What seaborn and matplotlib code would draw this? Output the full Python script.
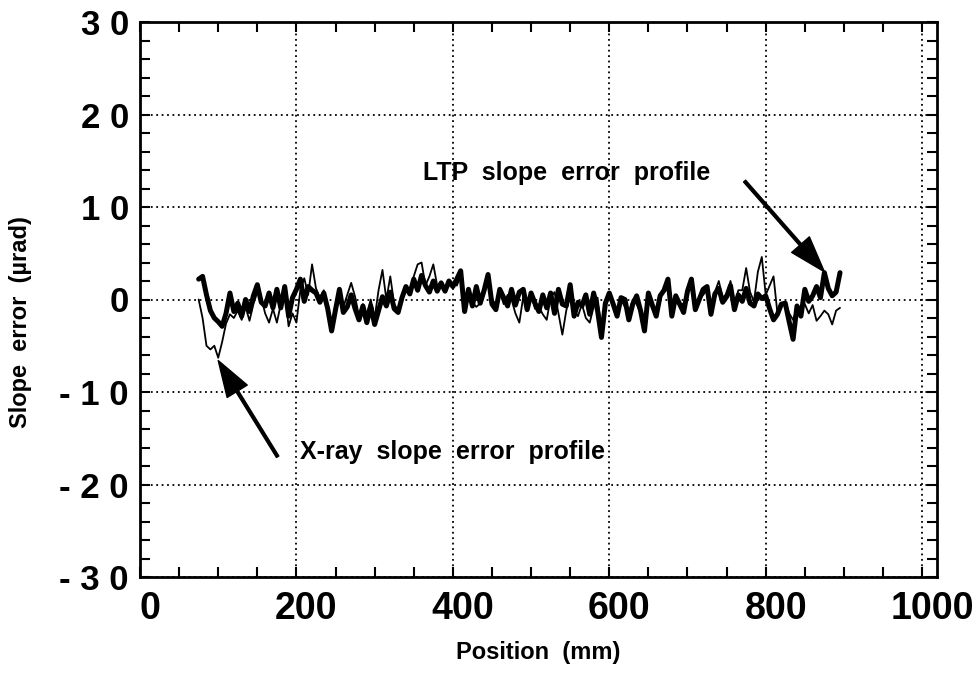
import numpy as np
import pandas as pd
import seaborn as sns
import matplotlib
matplotlib.use("Agg")
from matplotlib import pyplot as plt
from matplotlib.ticker import MultipleLocator
import matplotlib.transforms as mtransforms

# sample grid of both profiles (mm)
x_start = 75
x_step = 5

# LTP slope error profile (thick line), urad
ltp_slope = [
    2.2, 2.5, 0.5, -1.2, -2.0, -2.4, -2.9, -1.5, 0.7, -1.3,
    -0.4, -1.8, 0.0, -1.3, 0.4, 1.6, -0.3, -0.7, 0.7, -0.9,
    1.1, -0.9, 1.4, -1.8, 0.2, 1.1, 2.2, -0.2, 1.4, 1.0,
    0.7, -0.3, 0.7, -1.0, -3.4, -1.1, 1.1, -1.4, -0.8, 0.5,
    -1.0, -2.2, -0.7, -2.5, -0.7, -2.7, -1.2, 0.3, -0.7, 0.8,
    -1.0, -1.4, 0.2, 1.4, 0.6, 2.2, 1.0, 2.6, 1.5, 0.8,
    2.0, 0.9, 1.8, 0.9, 2.0, 1.4, 2.2, 3.1, -1.3, 1.1,
    -0.7, 1.4, -0.4, 1.0, 2.7, -0.5, -1.1, 1.1, 0.2, -0.7,
    1.1, -0.6, 0.8, 1.1, -1.1, 0.7, -0.4, -1.3, 0.5, -0.9,
    0.7, -1.5, 1.1, -0.5, -0.7, 1.6, -1.8, -0.3, -0.7, 0.5,
    -1.6, 0.7, -1.2, -4.1, -0.4, 0.7, -0.5, -1.8, 0.2, 0.0,
    -2.2, -0.5, 0.4, -1.2, -3.4, 0.7, -0.6, -1.8, 0.4, 1.0,
    2.2, -1.8, 0.4, -0.5, -1.4, 0.9, 2.2, -1.1, 0.0, 1.1,
    1.4, -1.6, 0.6, 1.2, -0.3, 0.3, 1.5, -1.1, 0.5, -0.2,
    1.2, -0.4, -0.7, 0.6, 0.1, 0.4, -1.0, -2.2, -1.6, -0.5,
    -0.4, -2.4, -4.3, -0.7, -1.8, 1.1, -0.2, 0.4, 1.4, 0.2,
    2.9, 1.2, 0.4, 0.8, 2.9,
]

# X-ray slope error profile (thin line), urad
xray_slope = [
    0.0, -2.0, -5.0, -5.4, -5.0, -6.3, -4.6, -2.6, -1.6, -2.0,
    -1.2, -2.2, -0.8, -2.3, -0.5, 0.8, 0.2, -1.5, -2.5, -1.0,
    -2.5, -0.5, 0.8, -2.9, -1.5, -2.5, 1.0, 2.3, 0.5, 3.8,
    1.2, 0.2, 1.0, -1.5, -2.8, -1.0, 0.8, -0.8, 0.5, 1.8,
    0.3, -1.8, -0.5, -1.6, 0.0, -2.0, 1.0, 3.2, 0.0, 2.5,
    -0.5, -1.2, 0.5, 1.2, 0.8, 2.5, 3.8, 4.0, 1.5, 2.5,
    3.8, 1.5, 1.8, 1.2, 1.5, 1.8, 1.5, 2.5, -0.5, 0.8,
    -0.3, -0.8, -0.4, 0.8, 1.8, 0.0, -0.5, 0.8, -0.5, 0.5,
    0.0, -1.5, -2.5, 0.3, -0.8, 0.5, -1.0, -0.8, -1.6, -2.2,
    0.2, 0.8, -1.5, -3.8, -1.2, 0.5, -1.2, -1.8, -0.5, -2.0,
    -2.5, -0.8, 0.2, -3.2, -0.8, 0.4, -0.8, -1.2, 0.0, -0.8,
    -1.5, 0.0, -0.5, -1.5, -2.5, 0.3, -1.0, -1.2, 0.5, 0.8,
    1.5, -1.0, 0.2, -0.8, -0.4, 0.6, 1.6, -0.5, 0.0, 0.5,
    1.0, -1.0, 0.8, 2.0, 0.2, 0.6, 2.0, -0.5, 1.0, 1.0,
    3.4, 0.8, -0.2, 3.0, 4.6, 0.5, 1.5, 2.5, -1.5, -0.8,
    -0.3, -1.5, -2.2, -1.0, -0.8, -0.5, -1.5, -0.6, -2.3, -1.8,
    -1.2, -1.6, -2.7, -1.2, -0.9,
]

x_ticks = [0, 200, 400, 600, 800, 1000]
y_ticks = [-30, -20, -10, 0, 10, 20, 30]
y_tick_labels = ["- 3 0", "- 2 0", "- 1 0", "0", "1 0", "2 0", "3 0"]

df_ltp = pd.DataFrame({"pos": x_start + x_step * np.arange(len(ltp_slope)),
                       "slope": ltp_slope})
df_xray = pd.DataFrame({"pos": x_start + x_step * np.arange(len(xray_slope)),
                        "slope": xray_slope})

sns.set_style("white")
plt.rcParams['font.family'] = ['Liberation Sans', 'DejaVu Sans']
plt.rcParams['font.weight'] = 'bold'
plt.rcParams['text.color'] = 'black'
plt.rcParams['axes.labelcolor'] = 'black'

fig = plt.figure(figsize=(9.79, 6.75), dpi=100)
ax = fig.add_axes([140 / 979, 98 / 675, 797 / 979, 555 / 675])

sns.lineplot(data=df_xray, x="pos", y="slope", ax=ax, color="black",
             linewidth=1.3, estimator=None, sort=False)
sns.lineplot(data=df_ltp, x="pos", y="slope", ax=ax, color="black",
             linewidth=3.6, estimator=None, sort=False)

ax.set_xlim(0, 1019)
ax.set_ylim(-30, 30)
ax.set_xticks(x_ticks)
ax.set_xticklabels([str(v) for v in x_ticks], fontsize=27, fontweight="bold")
ax.set_yticks(y_ticks)
ax.set_yticklabels(y_tick_labels, fontsize=25, fontweight="bold")
ax.xaxis.set_minor_locator(MultipleLocator(50))
ax.yaxis.set_minor_locator(MultipleLocator(2))

ax.grid(True, which="major", color="black", linestyle=(0, (1, 2)), linewidth=1.3)
ax.tick_params(which="both", direction="in", length=7, width=1.5,
               top=True, right=True, bottom=True, left=True, colors="black")
ax.tick_params(axis="x", which="major", pad=10)
ax.tick_params(axis="y", which="major", pad=8)
for s in ax.spines.values():
    s.set_visible(True)
    s.set_linewidth(2)
    s.set_color("black")

shift = mtransforms.ScaledTranslation(10 / 100, 0, fig.dpi_scale_trans)
for lab in ax.get_xticklabels():
    lab.set_transform(lab.get_transform() + shift)

ax.set_xlabel("Position  (mm)", fontsize=17, fontweight="bold", labelpad=10)
ax.set_ylabel("Slope  error  (µrad)", fontsize=17, fontweight="bold")
ax.yaxis.set_label_coords(-0.135, 0.46)

ax.annotate("", xy=(875, 3.0), xytext=(773, 12.8),
            arrowprops=dict(facecolor="black", edgecolor="black", width=2,
                            headwidth=17, headlength=26, shrink=0))
ax.annotate("", xy=(100, -6.6), xytext=(176, -17),
            arrowprops=dict(facecolor="black", edgecolor="black", width=2,
                            headwidth=17, headlength=26, shrink=0))
ax.text(362, 13.7, "LTP  slope  error  profile", fontsize=18,
        fontweight="bold", ha="left", va="center")
ax.text(204, -16.5, "X-ray  slope  error  profile", fontsize=18,
        fontweight="bold", ha="left", va="center")

plt.savefig("out.png", dpi=100)
